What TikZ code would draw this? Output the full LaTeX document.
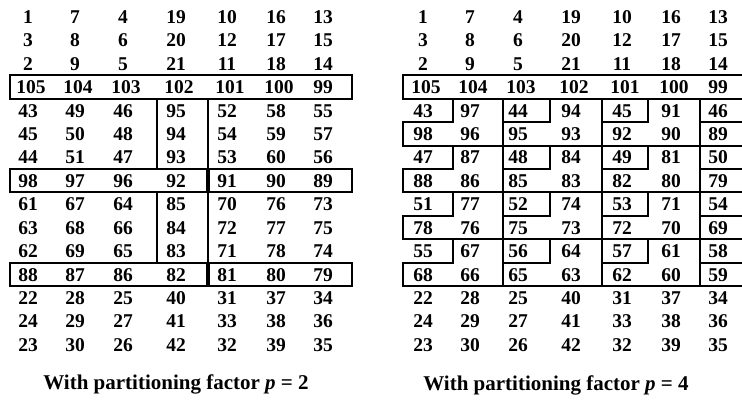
\documentclass[tikz,border=0pt]{standalone}
\usepackage{fontspec}
\setmainfont{Liberation Serif}
\begin{document}
\begin{tikzpicture}[x=1pt,y=-1pt,
  num/.style={font=\bfseries\fontsize{19.5}{20}\selectfont, inner sep=0pt, anchor=base},
  gridline/.style={line width=2pt, line join=miter, line cap=rect},
  captext/.style={font=\bfseries\fontsize{21}{22}\selectfont, inner sep=0pt}]
\useasboundingbox (0,0) rectangle (742,409);
\clip (0,0) rectangle (742,409);
\def\xs{{28,75,123,176,227,276,323}}
% left grid (p = 2)
\foreach \r [count=\i] in {
 {1,7,4,19,10,16,13},{3,8,6,20,12,17,15},{2,9,5,21,11,18,14},
 {105,104,103,102,101,100,99},{43,49,46,95,52,58,55},{45,50,48,94,54,59,57},
 {44,51,47,93,53,60,56},{98,97,96,92,91,90,89},{61,67,64,85,70,76,73},
 {63,68,66,84,72,77,75},{62,69,65,83,71,78,74},{88,87,86,82,81,80,79},
 {22,28,25,40,31,37,34},{24,29,27,41,33,38,36},{23,30,26,42,32,39,35}}{
  \foreach \v [count=\j] in \r {
    \pgfmathsetmacro\xx{\xs[\j-1]}
    \pgfmathsetmacro\yy{17+6.6+23.4*(\i-1)}
    \ifnum\v>99\relax
      \node[num] (L-\i-\j) at (\xx+3,\yy) {\v};
    \else
      \node[num] (L-\i-\j) at (\xx,\yy) {\v};
    \fi
  }
}
% right grid (p = 4)
\foreach \r [count=\i] in {
 {1,7,4,19,10,16,13},{3,8,6,20,12,17,15},{2,9,5,21,11,18,14},
 {105,104,103,102,101,100,99},{43,97,44,94,45,91,46},{98,96,95,93,92,90,89},
 {47,87,48,84,49,81,50},{88,86,85,83,82,80,79},{51,77,52,74,53,71,54},
 {78,76,75,73,72,70,69},{55,67,56,64,57,61,58},{68,66,65,63,62,60,59},
 {22,28,25,40,31,37,34},{24,29,27,41,33,38,36},{23,30,26,42,32,39,35}}{
  \foreach \v [count=\j] in \r {
    \pgfmathsetmacro\xx{\xs[\j-1]+395}
    \pgfmathsetmacro\yy{17+6.6+23.4*(\i-1)}
    \ifnum\v>99\relax
      \node[num] (R-\i-\j) at (\xx+3,\yy) {\v};
    \else
      \node[num] (R-\i-\j) at (\xx,\yy) {\v};
    \fi
  }
}
% left outlines
\draw[gridline] (10,75.5) rectangle (352,98.9);
\draw[gridline] (157,98.9) -- (157,169.1) (208,98.9) -- (208,169.1);
\draw[gridline] (10,169.1) rectangle (206.5,192.5) (208.5,169.1) rectangle (352,192.5);
\draw[gridline] (157,192.5) -- (157,262.7) (208,192.5) -- (208,262.7);
\draw[gridline] (10,262.7) rectangle (206.5,286.1) (208.5,262.7) rectangle (352,286.1);
% right outlines
\draw[gridline] (403,75.5) rectangle (752,98.9);
\foreach \T/\M/\B in {98.9/122.3/145.7, 145.7/169.1/192.5, 192.5/215.9/239.3, 239.3/262.7/286.1}{
  \draw[gridline] (453,\T) -- (453,\M) -- (403,\M) -- (403,\B) -- (503,\B);
  \draw[gridline] (503,\T) -- (503,\B) -- (602,\B);
  \draw[gridline] (503,\M) -- (550,\M) -- (550,\T);
  \draw[gridline] (602,\T) -- (602,\B) -- (700,\B);
  \draw[gridline] (602,\M) -- (648,\M) -- (648,\T);
  \draw[gridline] (700,\T) -- (700,\B) -- (752,\B);
  \draw[gridline] (700,\M) -- (752,\M);
}
% captions
\node[captext] (capL) at (176,384) {With partitioning factor {\itshape p} = 2};
\node[captext] (capR) at (556,385) {With partitioning factor {\itshape p} = 4};
\end{tikzpicture}
\end{document}
